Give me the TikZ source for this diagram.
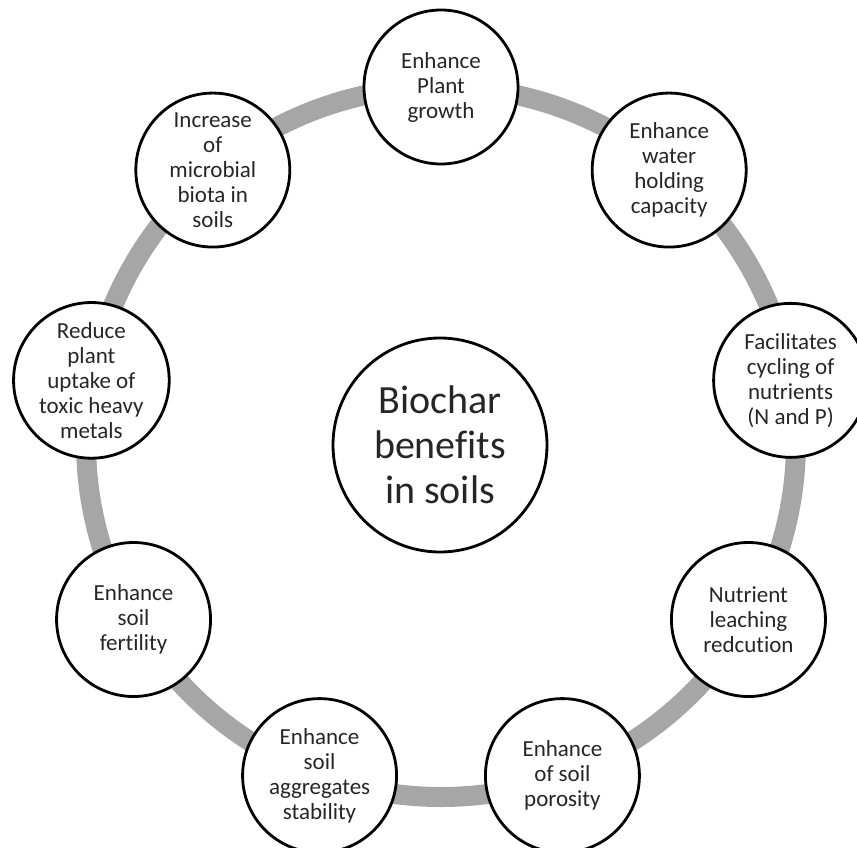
\documentclass[tikz,border=0pt]{standalone}
\usepackage{fontspec}
\setmainfont{Carlito}[Ligatures=NoCommon]
\usepackage{tikz}
\usetikzlibrary{calc}
\definecolor{ringgray}{RGB}{166,166,166}
\definecolor{textgray}{RGB}{38,38,38}

\begin{document}
\begin{tikzpicture}[x=1pt,y=1pt,
      ring/.style={draw=ringgray, line width=20pt},
      benefit/.style={circle, draw, line width=2.8pt, fill=white, minimum size=154pt,
        inner sep=0pt, align=center, text=textgray, font=\fontsize{23}{25}\selectfont},
      hub/.style={benefit, minimum size=214pt, font=\fontsize{40}{45}\selectfont}]
      \useasboundingbox (0,0) rectangle (857,-847);
      \coordinate (c) at (441,-442);
      % grey ring behind the benefits
      \draw[ring] (c) circle (355);
      \node[hub] (biochar) at (440,-445) {Biochar\\benefits\\in soils};
      \node[benefit] (growth) at ($(c)+(90:355)$) {Enhance\\Plant\\growth};
      \node[benefit] (water) at ($(c)+(50:355)$) {Enhance\\water\\holding\\capacity};
      \node[benefit] (cycling) at ($(c)+(10:355)$) {Facilitates\\cycling of\\nutrients\\(N and P)};
      \node[benefit] (leaching) at ($(c)+(-30:355)$) {Nutrient\\leaching\\redcution};
      \node[benefit] (porosity) at ($(c)+(-70:355)$) {Enhance\\of soil\\porosity};
      \node[benefit] (aggregates) at ($(c)+(-110:355)$) {Enhance\\soil\\aggregates\\stability};
      \node[benefit] (fertility) at ($(c)+(-150:355)$) {Enhance\\soil\\fertility};
      \node[benefit] (metals) at ($(c)+(170:355)$) {Reduce\\plant\\uptake of\\toxic heavy\\metals};
      \node[benefit] (microbes) at ($(c)+(130:355)$) {Increase\\of\\microbial\\biota in\\soils};
    \end{tikzpicture}
\end{document}
